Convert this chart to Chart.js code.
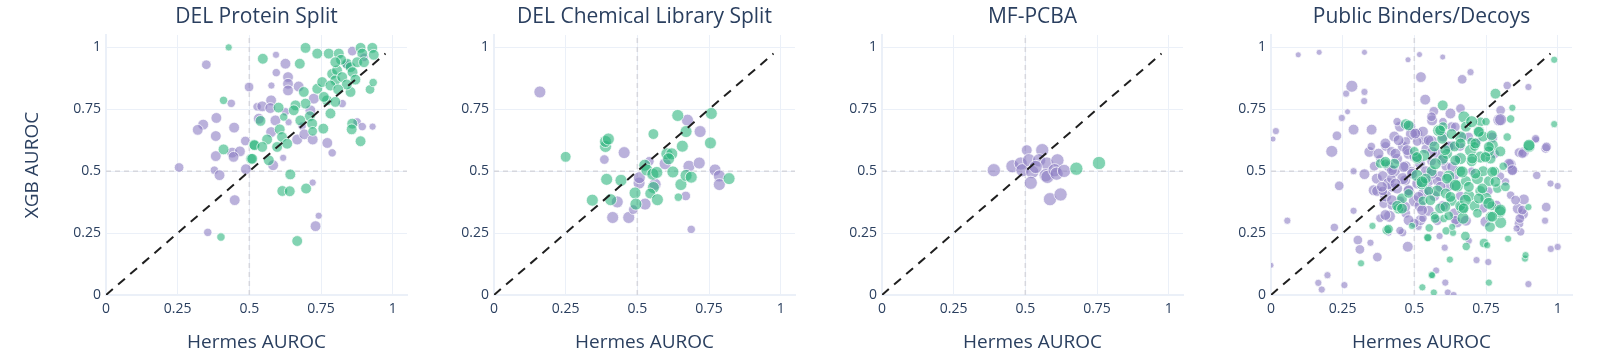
<!DOCTYPE html>
<html>
<head>
<meta charset="utf-8">
<script src="https://cdn.jsdelivr.net/npm/chart.js@4.4.1/dist/chart.umd.min.js"></script>
<style>
    body { margin: 0; background: #fff; width: 1600px; height: 364px; overflow: hidden; position: relative; }
    canvas { position: absolute; top: 0; }
</style>
</head>
<body>
<canvas id="c0"></canvas>
<canvas id="c1"></canvas>
<canvas id="c2"></canvas>
<canvas id="c3"></canvas>
<script>
// panel titles and axis ticks
const panelTitles = ["DEL Protein Split", "DEL Chemical Library Split", "MF-PCBA", "Public Binders/Decoys"];
const xTitle = "Hermes AUROC";
const yTitle = "XGB AUROC";
const tickValues = [0, 0.25, 0.5, 0.75, 1];
const tickLabels = ["0", "0.25", "0.5", "0.75", "1"];
const refValue = 0.5;
const diagonalEnd = 0.975;

// points: [Hermes AUROC, XGB AUROC, size class]
const proteinPurple = [
    [0.35, 0.93, 2.5], [0.499, 0.84, 2.5], [0.437, 0.774, 2], [0.527, 0.76, 2], [0.385, 0.715, 3],
    [0.339, 0.688, 3], [0.32, 0.667, 3], [0.447, 0.676, 3], [0.383, 0.642, 3], [0.486, 0.622, 2.5],
    [0.44, 0.575, 3], [0.467, 0.58, 3], [0.383, 0.561, 3], [0.445, 0.558, 3], [0.255, 0.515, 2.5],
    [0.378, 0.504, 2], [0.396, 0.484, 3], [0.488, 0.508, 3], [0.449, 0.383, 3], [0.355, 0.253, 2],
    [0.593, 0.97, 1.5], [0.626, 0.934, 3], [0.594, 0.898, 2], [0.635, 0.88, 3], [0.635, 0.853, 3],
    [0.635, 0.826, 3], [0.577, 0.846, 1.5], [0.672, 0.842, 3], [0.859, 0.985, 2.5], [0.725, 0.793, 3],
    [0.824, 0.773, 2], [0.576, 0.786, 3], [0.545, 0.762, 3], [0.573, 0.755, 3], [0.626, 0.74, 2],
    [0.713, 0.746, 3], [0.533, 0.712, 3], [0.591, 0.705, 3], [0.637, 0.698, 1.5], [0.684, 0.682, 2],
    [0.876, 0.699, 2], [0.894, 0.68, 2], [0.93, 0.68, 1.5], [0.772, 0.614, 3], [0.789, 0.574, 2],
    [0.576, 0.658, 3], [0.667, 0.628, 3], [0.692, 0.649, 3], [0.721, 0.628, 3], [0.618, 0.554, 1.5],
    [0.583, 0.524, 3], [0.721, 0.454, 1.5], [0.742, 0.32, 1.5], [0.731, 0.278, 3], [0.84, 0.93, 2.5],
    [0.9, 0.96, 2]
];
const proteinGreen = [
    [0.428, 1.0, 1.5], [0.41, 0.786, 2], [0.516, 0.607, 3], [0.41, 0.588, 3], [0.506, 0.55, 3],
    [0.401, 0.234, 2], [0.696, 0.998, 3], [0.737, 0.975, 3], [0.777, 0.975, 3], [0.812, 0.975, 3],
    [0.888, 0.998, 3], [0.929, 0.998, 3], [0.934, 0.97, 3], [0.894, 0.975, 3], [0.547, 0.954, 3],
    [0.676, 0.934, 3], [0.69, 0.82, 3], [0.737, 0.833, 3], [0.754, 0.86, 3], [0.789, 0.893, 3],
    [0.806, 0.907, 3], [0.841, 0.934, 3], [0.853, 0.92, 3], [0.876, 0.94, 3], [0.8, 0.867, 3],
    [0.824, 0.88, 3], [0.783, 0.846, 3], [0.853, 0.82, 3], [0.921, 0.83, 2.5], [0.932, 0.858, 2],
    [0.696, 0.773, 3], [0.661, 0.766, 3], [0.771, 0.786, 3], [0.8, 0.78, 3], [0.602, 0.757, 3],
    [0.655, 0.746, 3], [0.711, 0.722, 3], [0.783, 0.733, 3], [0.539, 0.703, 3], [0.62, 0.719, 2],
    [0.678, 0.705, 3], [0.719, 0.692, 3], [0.758, 0.672, 3], [0.859, 0.692, 3], [0.857, 0.669, 3],
    [0.888, 0.621, 3], [0.606, 0.669, 3], [0.614, 0.638, 3], [0.721, 0.661, 2.5], [0.562, 0.628, 3],
    [0.518, 0.605, 3], [0.545, 0.598, 3], [0.597, 0.598, 3], [0.632, 0.611, 3], [0.51, 0.55, 3],
    [0.568, 0.544, 3], [0.643, 0.487, 3], [0.615, 0.42, 3], [0.641, 0.419, 3], [0.698, 0.43, 3],
    [0.667, 0.218, 3], [0.82, 0.95, 3], [0.86, 0.9, 3], [0.87, 0.87, 3], [0.84, 0.85, 3],
    [0.81, 0.83, 3], [0.76, 0.8, 3], [0.9, 0.94, 3], [0.8, 0.94, 3]
];

const chemPurple = [
    [0.16, 0.82, 3.5], [0.385, 0.547, 2.5], [0.414, 0.313, 3.5], [0.43, 0.376, 3.5], [0.454, 0.575, 3.5],
    [0.47, 0.313, 3.5], [0.486, 0.345, 2.5], [0.506, 0.452, 3.5], [0.507, 0.474, 3.5], [0.527, 0.367, 3.5],
    [0.542, 0.54, 2.5], [0.562, 0.447, 3.5], [0.597, 0.53, 3.5], [0.675, 0.706, 3.5], [0.669, 0.4, 2.5],
    [0.68, 0.52, 3.5], [0.688, 0.265, 2], [0.719, 0.66, 3.5], [0.716, 0.533, 3.5], [0.771, 0.505, 3.5],
    [0.786, 0.481, 3.5], [0.786, 0.446, 3.5]
];
const chemGreen = [
    [0.25, 0.558, 3], [0.343, 0.383, 3.5], [0.389, 0.6, 3.5], [0.389, 0.62, 3.5], [0.399, 0.63, 3.5],
    [0.393, 0.467, 3.5], [0.407, 0.385, 3.5], [0.443, 0.463, 3.5], [0.492, 0.412, 3.5], [0.495, 0.367, 3.5],
    [0.526, 0.524, 3.5], [0.533, 0.505, 3.5], [0.556, 0.65, 3], [0.554, 0.488, 3.5], [0.556, 0.434, 3.5],
    [0.545, 0.41, 3], [0.568, 0.495, 3.5], [0.57, 0.385, 3.5], [0.603, 0.57, 3.5], [0.62, 0.57, 3.5],
    [0.609, 0.55, 3.5], [0.624, 0.497, 3.5], [0.641, 0.725, 3.5], [0.643, 0.395, 2], [0.657, 0.601, 3.5],
    [0.652, 0.446, 3.5], [0.67, 0.66, 3.5], [0.67, 0.483, 3.5], [0.688, 0.476, 3.5], [0.758, 0.733, 3.5],
    [0.755, 0.614, 3.5], [0.82, 0.47, 3.5]
];

const pcbaPurple = [
    [0.39, 0.504, 4], [0.455, 0.52, 4], [0.505, 0.585, 3], [0.484, 0.531, 4], [0.49, 0.504, 4],
    [0.513, 0.544, 4], [0.524, 0.497, 4], [0.519, 0.453, 4], [0.559, 0.585, 4], [0.548, 0.544, 4],
    [0.575, 0.531, 4], [0.571, 0.484, 4], [0.577, 0.477, 4], [0.612, 0.544, 4], [0.602, 0.504, 4],
    [0.609, 0.49, 4], [0.635, 0.501, 4], [0.586, 0.387, 4], [0.623, 0.406, 4], [0.536, 0.517, 4]
];
const pcbaGreen = [
    [0.678, 0.51, 4], [0.757, 0.533, 4]
];

const publicPurple = [
    [0.095, 0.97, 1], [0.168, 0.98, 1], [0.326, 0.98, 1], [0.478, 0.95, 1], [0.518, 0.971, 1],
    [0.599, 0.961, 1], [0.282, 0.843, 3.5], [0.262, 0.813, 1.5], [0.326, 0.82, 1.5], [0.325, 0.783, 1.5],
    [0.267, 0.74, 1], [0.247, 0.715, 1.5], [0.017, 0.662, 1.5], [0.007, 0.63, 1], [0.23, 0.643, 2.5],
    [0.288, 0.668, 3], [0.351, 0.668, 3], [0.212, 0.58, 3.5], [0.343, 0.578, 3], [0.523, 0.88, 3],
    [0.667, 0.871, 2.5], [0.696, 0.9, 1.5], [0.898, 0.84, 1.5], [0.824, 0.846, 2], [0.538, 0.789, 3],
    [0.238, 0.441, 2.5], [0.288, 0.5, 1.5], [0.326, 0.488, 3], [0.369, 0.47, 3], [0.358, 0.423, 3],
    [0.393, 0.369, 2.5], [0.288, 0.34, 1.5], [0.057, 0.3, 1.5], [0.221, 0.273, 2], [0.413, 0.318, 3.5],
    [0.303, 0.222, 2.5], [0.31, 0.184, 2.5], [0.347, 0.211, 1.5], [0.371, 0.153, 2.5], [0.197, 0.08, 1.5],
    [0.165, 0.049, 1.5], [0.177, 0.022, 1.5], [0.256, 0.04, 1.5], [0.0, 0.12, 1], [0.41, 0.252, 1.5],
    [0.459, 0.252, 2], [0.477, 0.195, 3], [0.515, 0.275, 1.5], [0.576, 0.099, 1.5], [0.608, 0.05, 1.5],
    [0.617, 0.01, 1.5], [0.637, 0.0, 1.5], [0.717, 0.141, 1.5], [0.758, 0.133, 1.5], [0.898, 0.044, 1.5],
    [0.976, 0.186, 1.5], [1.0, 0.194, 1.5], [0.956, 0.3, 1.5], [0.96, 0.355, 2.5], [0.975, 0.45, 1.5],
    [1.0, 0.44, 1.5], [0.927, 0.483, 2], [0.958, 0.592, 2.5], [0.925, 0.627, 1.5], [0.865, 0.575, 2.5],
    [0.836, 0.528, 3], [0.842, 0.504, 2.5], [0.795, 0.707, 3.5], [0.879, 0.327, 3], [0.865, 0.288, 2.5],
    [0.871, 0.255, 2], [0.69, 0.219, 1.5], [0.606, 0.191, 1.5], [0.857, 0.269, 1.5], [0.818, 0.457, 2],
    [0.836, 0.403, 2], [0.882, 0.386, 3], [0.861, 0.349, 3], [0.868, 0.309, 2.5], [0.787, 0.363, 2.5],
    [0.748, 0.296, 3], [0.588, 0.238, 1.5], [0.649, 0.293, 3], [0.521, 0.302, 3], [0.801, 0.746, 2.5],
    [0.801, 0.708, 3.5], [0.772, 0.636, 3], [0.923, 0.631, 2], [0.961, 0.598, 2.5], [0.882, 0.577, 3],
    [0.568, 0.742, 2.5], [0.626, 0.733, 3], [0.661, 0.753, 2.5], [0.562, 0.705, 3], [0.51, 0.652, 3],
    [0.486, 0.68, 3], [0.533, 0.625, 2.5], [0.632, 0.604, 2.5], [0.422, 0.437, 3], [0.468, 0.463, 3],
    [0.36, 0.52, 2.5], [0.37, 0.42, 3], [0.38, 0.55, 2], [0.39, 0.48, 3], [0.4, 0.4, 3.5],
    [0.4, 0.6, 2.5], [0.41, 0.52, 3], [0.41, 0.45, 3.5], [0.42, 0.58, 2.5], [0.42, 0.36, 2],
    [0.43, 0.5, 3.5], [0.43, 0.64, 3], [0.44, 0.43, 3], [0.44, 0.55, 3], [0.45, 0.68, 3],
    [0.45, 0.38, 2.5], [0.46, 0.6, 3], [0.46, 0.47, 3.5], [0.47, 0.52, 3], [0.47, 0.33, 2.5],
    [0.48, 0.57, 3], [0.48, 0.42, 3], [0.49, 0.65, 3.5], [0.49, 0.5, 2.5], [0.5, 0.38, 3.5],
    [0.5, 0.56, 3], [0.51, 0.45, 3], [0.51, 0.62, 2.5], [0.52, 0.36, 3.5], [0.52, 0.53, 3],
    [0.53, 0.66, 3], [0.53, 0.41, 3], [0.54, 0.5, 3], [0.54, 0.59, 2.5], [0.55, 0.34, 3],
    [0.55, 0.46, 3], [0.56, 0.62, 3.5], [0.56, 0.54, 2.5], [0.57, 0.4, 3], [0.58, 0.57, 3],
    [0.58, 0.3, 2.5], [0.59, 0.48, 3], [0.6, 0.64, 3], [0.6, 0.36, 3], [0.61, 0.52, 2.5],
    [0.62, 0.6, 3], [0.62, 0.44, 3], [0.63, 0.68, 2.5], [0.64, 0.33, 3], [0.65, 0.55, 2],
    [0.66, 0.4, 2.5], [0.67, 0.64, 2], [0.68, 0.3, 3], [0.7, 0.5, 2], [0.72, 0.62, 2],
    [0.74, 0.35, 2.5], [0.76, 0.42, 2], [0.78, 0.57, 2.5], [0.8, 0.48, 2], [0.45, 0.26, 2],
    [0.5, 0.29, 2.5], [0.38, 0.31, 2], [0.35, 0.6, 2], [0.44, 0.7, 2], [0.56, 0.72, 2.5],
    [0.6, 0.7, 2], [0.47, 0.62, 2.5], [0.42, 0.47, 2.5], [0.39, 0.42, 2.5], [0.53, 0.31, 2],
    [0.58, 0.46, 2.5], [0.64, 0.48, 2.5], [0.66, 0.6, 2.5],
    [0.399, 0.612, 3], [0.445, 0.625, 3], [0.503, 0.652, 3], [0.55, 0.625, 3], [0.375, 0.571, 3],
    [0.434, 0.571, 3], [0.475, 0.585, 3], [0.562, 0.578, 3], [0.422, 0.504, 3], [0.463, 0.517, 3],
    [0.492, 0.49, 3], [0.562, 0.49, 3], [0.387, 0.437, 3], [0.434, 0.45, 3], [0.48, 0.423, 3],
    [0.515, 0.396, 3], [0.55, 0.423, 3], [0.591, 0.437, 3], [0.422, 0.383, 3], [0.468, 0.356, 3],
    [0.527, 0.343, 3], [0.399, 0.323, 3], [0.48, 0.302, 3], [0.643, 0.679, 2.5], [0.69, 0.638, 2.5],
    [0.83, 0.53, 3], [0.877, 0.571, 2.5], [0.842, 0.504, 3], [0.853, 0.383, 2.5], [0.877, 0.343, 2.5],
    [0.643, 0.302, 2.5], [0.597, 0.544, 3], [0.632, 0.517, 3]
];
const publicGreen = [
    [0.988, 0.95, 1.5], [0.988, 0.69, 1.5], [0.783, 0.813, 3], [0.842, 0.756, 1.5], [0.836, 0.711, 2],
    [0.824, 0.638, 2], [0.9, 0.6, 3.5], [0.314, 0.128, 1.5], [0.354, 0.279, 1.5], [0.404, 0.262, 2.5],
    [0.492, 0.279, 1.5], [0.552, 0.271, 2], [0.547, 0.231, 1.5], [0.56, 0.081, 1.5], [0.528, 0.031, 1.5],
    [0.568, 0.01, 1.5], [0.624, 0.143, 1.5], [0.76, 0.05, 1.5], [0.886, 0.147, 1.5], [0.898, 0.355, 1.5],
    [0.827, 0.227, 1.5], [0.743, 0.21, 2.5], [0.754, 0.201, 1.5], [0.801, 0.293, 3.5], [0.764, 0.275, 3],
    [0.681, 0.196, 2], [0.888, 0.161, 1.5], [0.562, 0.08, 1.5], [0.547, 0.232, 2], [0.611, 0.259, 2],
    [0.635, 0.251, 1.5], [0.678, 0.238, 2.5], [0.667, 0.349, 3.5], [0.603, 0.309, 2], [0.632, 0.275, 1.5],
    [0.798, 0.336, 3.5], [0.766, 0.316, 3], [0.445, 0.349, 3], [0.457, 0.39, 3], [0.381, 0.531, 2.5],
    [0.599, 0.766, 3], [0.673, 0.719, 3.5], [0.731, 0.699, 2.5], [0.725, 0.659, 3.5], [0.772, 0.605, 3.5],
    [0.585, 0.664, 3.5], [0.597, 0.631, 3], [0.661, 0.638, 3.5], [0.7, 0.618, 2.5], [0.696, 0.584, 3.5],
    [0.614, 0.57, 3], [0.533, 0.564, 3.5], [0.51, 0.551, 3], [0.661, 0.551, 3.5], [0.731, 0.557, 3.5],
    [0.766, 0.551, 3], [0.509, 0.483, 3.5], [0.527, 0.449, 3.5], [0.43, 0.53, 3], [0.4, 0.53, 2.5],
    [0.47, 0.69, 3], [0.44, 0.36, 3], [0.48, 0.41, 2.5], [0.56, 0.5, 3], [0.58, 0.42, 3.5],
    [0.6, 0.55, 3], [0.62, 0.48, 3.5], [0.63, 0.38, 3], [0.64, 0.6, 3], [0.65, 0.44, 3.5],
    [0.66, 0.5, 3], [0.67, 0.31, 3.5], [0.68, 0.46, 3], [0.69, 0.4, 3.5], [0.7, 0.54, 3],
    [0.71, 0.36, 3], [0.72, 0.47, 3.5], [0.73, 0.42, 3], [0.74, 0.5, 3], [0.75, 0.39, 3.5],
    [0.76, 0.46, 3], [0.77, 0.36, 2.5], [0.78, 0.5, 2.5], [0.79, 0.43, 2.5], [0.8, 0.58, 3],
    [0.81, 0.52, 2], [0.57, 0.6, 3], [0.6, 0.68, 2.5], [0.63, 0.65, 3], [0.68, 0.68, 3],
    [0.7, 0.7, 3.5], [0.74, 0.64, 3], [0.76, 0.58, 3], [0.55, 0.42, 2.5], [0.59, 0.35, 3],
    [0.62, 0.32, 2.5], [0.66, 0.36, 3], [0.72, 0.33, 2.5], [0.53, 0.38, 2.5], [0.57, 0.32, 2],
    [0.5, 0.58, 2.5], [0.54, 0.47, 3], [0.61, 0.41, 3], [0.71, 0.6, 2.5], [0.75, 0.7, 2],
    [0.48, 0.685, 3], [0.59, 0.665, 3], [0.725, 0.659, 3], [0.77, 0.645, 3], [0.9, 0.605, 3.5],
    [0.661, 0.612, 3], [0.713, 0.612, 3], [0.608, 0.585, 3], [0.76, 0.598, 3], [0.399, 0.538, 3],
    [0.509, 0.557, 3], [0.573, 0.53, 3.5], [0.643, 0.544, 3], [0.702, 0.551, 3], [0.748, 0.557, 3],
    [0.667, 0.497, 3.5], [0.713, 0.49, 3], [0.772, 0.497, 3], [0.614, 0.47, 3], [0.527, 0.457, 3.5],
    [0.643, 0.443, 3.5], [0.69, 0.437, 3], [0.737, 0.43, 3], [0.783, 0.457, 3], [0.818, 0.437, 2.5],
    [0.626, 0.396, 3], [0.678, 0.383, 3.5], [0.725, 0.39, 3], [0.76, 0.37, 3.5], [0.8, 0.343, 3.5],
    [0.457, 0.349, 3], [0.556, 0.383, 3], [0.608, 0.356, 3], [0.672, 0.35, 3], [0.772, 0.316, 3],
    [0.573, 0.309, 2.5], [0.41, 0.266, 2.5]
];

const panelPoints = [
    [proteinPurple, proteinGreen],
    [chemPurple, chemGreen],
    [pcbaPurple, pcbaGreen],
    [publicPurple, publicGreen],
];

// layout
const plotLefts = [106, 494, 882, 1271];
const axisMax = 1.05;
const textColor = "#2a3f5f";
const gridColor = "#EBF0F8";
const purple = "rgba(140, 125, 195, 0.6)";
const green = "rgba(40, 180, 122, 0.58)";

Chart.defaults.font.family = "'Open Sans', sans-serif";
Chart.defaults.color = textColor;

function toPoints(list) {
    return list.map((p) => ({ x: p[0], y: p[1], n: p[2] }));
}

function markerRadius(ctx) {
    const raw = ctx.raw;
    return raw ? 1.8 + 1.2 * raw.n : 3;
}

function fixedTicks(scale) {
    scale.ticks = tickValues.map((v) => ({ value: v }));
}

panelPoints.forEach((pair, i) => {
    const yWidth = i === 0 ? 106 : 60;
    const canvas = document.getElementById("c" + i);
    canvas.width = yWidth + 301 + 10;
    canvas.height = 364;
    canvas.style.left = plotLefts[i] - yWidth + "px";

    new Chart(canvas, {
        type: "scatter",
        data: {
            datasets: [
                {
                    data: [{ x: refValue, y: 0 }, { x: refValue, y: axisMax }],
                    showLine: true,
                    borderColor: "#d6d7de",
                    borderWidth: 1.5,
                    borderDash: [5, 4],
                    pointRadius: 0,
                    order: 5,
                },
                {
                    data: [{ x: 0, y: refValue }, { x: axisMax, y: refValue }],
                    showLine: true,
                    borderColor: "#d6d7de",
                    borderWidth: 1.5,
                    borderDash: [5, 4],
                    pointRadius: 0,
                    order: 4,
                },
                {
                    data: toPoints(pair[0]),
                    backgroundColor: purple,
                    borderColor: "rgba(255,255,255,0.9)",
                    borderWidth: 0.8,
                    pointRadius: markerRadius,
                    order: 3,
                },
                {
                    data: toPoints(pair[1]),
                    backgroundColor: green,
                    borderColor: "rgba(255,255,255,0.9)",
                    borderWidth: 0.8,
                    pointRadius: markerRadius,
                    order: 2,
                },
                {
                    data: [{ x: 0, y: 0 }, { x: diagonalEnd, y: diagonalEnd }],
                    showLine: true,
                    borderColor: "#1f1f1f",
                    borderWidth: 2,
                    borderDash: [9, 7],
                    pointRadius: 0,
                    order: 0,
                },
            ],
        },
        options: {
            responsive: false,
            animation: false,
            events: [],
            layout: { padding: { left: 0, right: 10, top: 0, bottom: 0 } },
            plugins: {
                legend: { display: false },
                tooltip: { enabled: false },
                title: {
                    display: true,
                    text: panelTitles[i],
                    fullSize: false,
                    color: textColor,
                    font: { size: 21, weight: "normal" },
                    padding: { top: 4, bottom: 5.8 },
                },
            },
            scales: {
                x: {
                    type: "linear",
                    min: 0,
                    max: axisMax,
                    afterBuildTicks: fixedTicks,
                    afterFit: (s) => { s.height = 69; },
                    ticks: {
                        callback: (v, idx) => tickLabels[idx],
                        font: { size: 14 },
                        color: textColor,
                        padding: 6,
                        maxRotation: 0,
                        autoSkip: false,
                    },
                    grid: { color: gridColor, lineWidth: 1, drawTicks: false },
                    border: { color: gridColor, width: 2 },
                    title: {
                        display: true,
                        text: xTitle,
                        color: textColor,
                        font: { size: 19 },
                        padding: { top: 0, bottom: 9.6 },
                    },
                },
                y: {
                    type: "linear",
                    min: 0,
                    max: axisMax,
                    afterBuildTicks: fixedTicks,
                    afterFit: (s) => { s.width = yWidth; },
                    ticks: {
                        callback: (v, idx) => tickLabels[idx],
                        font: { size: 14 },
                        color: textColor,
                        padding: 5,
                        autoSkip: false,
                    },
                    grid: { color: gridColor, lineWidth: 1, drawTicks: false },
                    border: { color: gridColor, width: 2 },
                    title: {
                        display: i === 0,
                        text: yTitle,
                        color: textColor,
                        font: { size: 19 },
                        padding: { top: 21.6, bottom: 0 },
                    },
                },
            },
        },
    });
});
</script>
</body>
</html>
